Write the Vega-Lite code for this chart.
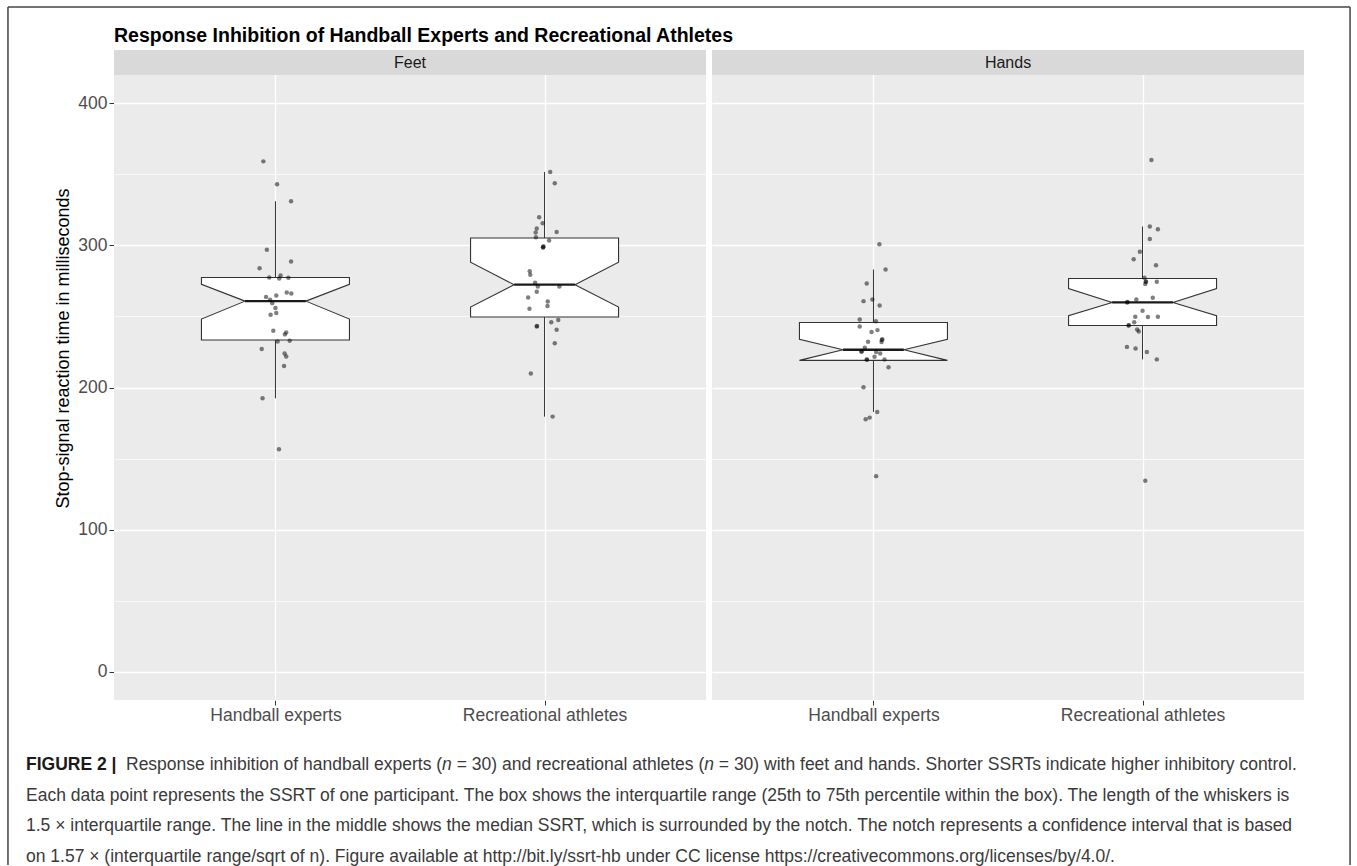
{
  "$schema": "https://vega.github.io/schema/vega-lite/v6.json",
  "background": "white",
  "padding": {"left": 7, "top": 6, "right": 5, "bottom": 0},
  "bounds": "flush",
  "spacing": 715,
  "config": {
    "view": {"stroke": null},
    "font": "Liberation Sans",
    "facet": {"spacing": 6},
    "axis": {
      "domain": false,
      "tickColor": "#333333",
      "tickSize": 5,
      "tickWidth": 1,
      "labelColor": "#4D4D4D",
      "labelFontSize": 17.5,
      "labelFont": "Liberation Sans",
      "gridColor": "white",
      "titleFont": "Liberation Sans",
      "titleFontWeight": "normal",
      "titleFontSize": 18,
      "titleColor": "black"
    }
  },
  "vconcat": [
    {
      "data": {"values": [
        {"kind": "strip", "panel": "Feet"},
        {"kind": "strip", "panel": "Hands"},
        {"kind": "box", "panel": "Feet", "group": "Handball experts", "lower": 192.4, "q1": 233.4, "nlo": 248.2, "med": 260.8, "nhi": 272.6, "q3": 277.4, "upper": 331.1},
        {"kind": "box", "panel": "Feet", "group": "Recreational athletes", "lower": 179.5, "q1": 249.6, "nlo": 256.6, "med": 272.4, "nhi": 288.2, "q3": 305.3, "upper": 351.7},
        {"kind": "box", "panel": "Hands", "group": "Handball experts", "lower": 182.8, "q1": 219.1, "nlo": 219.1, "med": 226.6, "nhi": 233.9, "q3": 245.8, "upper": 283.1},
        {"kind": "box", "panel": "Hands", "group": "Recreational athletes", "lower": 219.8, "q1": 243.7, "nlo": 250.6, "med": 259.9, "nhi": 269.7, "q3": 276.7, "upper": 313.3},
        {"kind": "pt", "panel": "Feet", "group": "Handball experts", "rt": 359.2, "jit": -0.045},
        {"kind": "pt", "panel": "Feet", "group": "Handball experts", "rt": 343.1, "jit": 0.006},
        {"kind": "pt", "panel": "Feet", "group": "Handball experts", "rt": 331.1, "jit": 0.058},
        {"kind": "pt", "panel": "Feet", "group": "Handball experts", "rt": 296.9, "jit": -0.032},
        {"kind": "pt", "panel": "Feet", "group": "Handball experts", "rt": 288.7, "jit": 0.058},
        {"kind": "pt", "panel": "Feet", "group": "Handball experts", "rt": 284.0, "jit": -0.059},
        {"kind": "pt", "panel": "Feet", "group": "Handball experts", "rt": 277.5, "jit": -0.023},
        {"kind": "pt", "panel": "Feet", "group": "Handball experts", "rt": 278.9, "jit": 0.019},
        {"kind": "pt", "panel": "Feet", "group": "Handball experts", "rt": 276.7, "jit": 0.014},
        {"kind": "pt", "panel": "Feet", "group": "Handball experts", "rt": 277.2, "jit": 0.048},
        {"kind": "pt", "panel": "Feet", "group": "Handball experts", "rt": 266.9, "jit": 0.042},
        {"kind": "pt", "panel": "Feet", "group": "Handball experts", "rt": 266.2, "jit": 0.059},
        {"kind": "pt", "panel": "Feet", "group": "Handball experts", "rt": 263.8, "jit": -0.035},
        {"kind": "pt", "panel": "Feet", "group": "Handball experts", "rt": 264.8, "jit": 0.003},
        {"kind": "pt", "panel": "Feet", "group": "Handball experts", "rt": 261.7, "jit": -0.02},
        {"kind": "pt", "panel": "Feet", "group": "Handball experts", "rt": 259.4, "jit": -0.012},
        {"kind": "pt", "panel": "Feet", "group": "Handball experts", "rt": 255.9, "jit": 0.0},
        {"kind": "pt", "panel": "Feet", "group": "Handball experts", "rt": 251.2, "jit": -0.018},
        {"kind": "pt", "panel": "Feet", "group": "Handball experts", "rt": 252.4, "jit": 0.003},
        {"kind": "pt", "panel": "Feet", "group": "Handball experts", "rt": 240.0, "jit": -0.008},
        {"kind": "pt", "panel": "Feet", "group": "Handball experts", "rt": 238.8, "jit": 0.04},
        {"kind": "pt", "panel": "Feet", "group": "Handball experts", "rt": 237.4, "jit": 0.035},
        {"kind": "pt", "panel": "Feet", "group": "Handball experts", "rt": 232.4, "jit": 0.008},
        {"kind": "pt", "panel": "Feet", "group": "Handball experts", "rt": 232.9, "jit": 0.053},
        {"kind": "pt", "panel": "Feet", "group": "Handball experts", "rt": 227.1, "jit": -0.051},
        {"kind": "pt", "panel": "Feet", "group": "Handball experts", "rt": 224.0, "jit": 0.034},
        {"kind": "pt", "panel": "Feet", "group": "Handball experts", "rt": 221.9, "jit": 0.04},
        {"kind": "pt", "panel": "Feet", "group": "Handball experts", "rt": 215.1, "jit": 0.032},
        {"kind": "pt", "panel": "Feet", "group": "Handball experts", "rt": 192.4, "jit": -0.048},
        {"kind": "pt", "panel": "Feet", "group": "Handball experts", "rt": 156.6, "jit": 0.013},
        {"kind": "pt", "panel": "Feet", "group": "Recreational athletes", "rt": 351.7, "jit": 0.021},
        {"kind": "pt", "panel": "Feet", "group": "Recreational athletes", "rt": 343.8, "jit": 0.038},
        {"kind": "pt", "panel": "Feet", "group": "Recreational athletes", "rt": 319.9, "jit": -0.02},
        {"kind": "pt", "panel": "Feet", "group": "Recreational athletes", "rt": 315.6, "jit": -0.007},
        {"kind": "pt", "panel": "Feet", "group": "Recreational athletes", "rt": 311.9, "jit": -0.029},
        {"kind": "pt", "panel": "Feet", "group": "Recreational athletes", "rt": 309.1, "jit": -0.033},
        {"kind": "pt", "panel": "Feet", "group": "Recreational athletes", "rt": 309.5, "jit": 0.045},
        {"kind": "pt", "panel": "Feet", "group": "Recreational athletes", "rt": 305.8, "jit": -0.032},
        {"kind": "pt", "panel": "Feet", "group": "Recreational athletes", "rt": 303.5, "jit": 0.017},
        {"kind": "pt", "panel": "Feet", "group": "Recreational athletes", "rt": 298.8, "jit": -0.005},
        {"kind": "pt", "panel": "Feet", "group": "Recreational athletes", "rt": 299.4, "jit": -0.004},
        {"kind": "pt", "panel": "Feet", "group": "Recreational athletes", "rt": 298.5, "jit": -0.006},
        {"kind": "pt", "panel": "Feet", "group": "Recreational athletes", "rt": 281.9, "jit": -0.055},
        {"kind": "pt", "panel": "Feet", "group": "Recreational athletes", "rt": 279.3, "jit": -0.053},
        {"kind": "pt", "panel": "Feet", "group": "Recreational athletes", "rt": 273.7, "jit": -0.035},
        {"kind": "pt", "panel": "Feet", "group": "Recreational athletes", "rt": 271.1, "jit": -0.025},
        {"kind": "pt", "panel": "Feet", "group": "Recreational athletes", "rt": 271.1, "jit": 0.055},
        {"kind": "pt", "panel": "Feet", "group": "Recreational athletes", "rt": 267.4, "jit": -0.029},
        {"kind": "pt", "panel": "Feet", "group": "Recreational athletes", "rt": 263.4, "jit": -0.061},
        {"kind": "pt", "panel": "Feet", "group": "Recreational athletes", "rt": 260.6, "jit": 0.012},
        {"kind": "pt", "panel": "Feet", "group": "Recreational athletes", "rt": 257.3, "jit": 0.011},
        {"kind": "pt", "panel": "Feet", "group": "Recreational athletes", "rt": 255.4, "jit": -0.056},
        {"kind": "pt", "panel": "Feet", "group": "Recreational athletes", "rt": 246.0, "jit": 0.025},
        {"kind": "pt", "panel": "Feet", "group": "Recreational athletes", "rt": 247.5, "jit": 0.051},
        {"kind": "pt", "panel": "Feet", "group": "Recreational athletes", "rt": 243.0, "jit": -0.029},
        {"kind": "pt", "panel": "Feet", "group": "Recreational athletes", "rt": 243.3, "jit": -0.028},
        {"kind": "pt", "panel": "Feet", "group": "Recreational athletes", "rt": 240.7, "jit": 0.045},
        {"kind": "pt", "panel": "Feet", "group": "Recreational athletes", "rt": 231.1, "jit": 0.038},
        {"kind": "pt", "panel": "Feet", "group": "Recreational athletes", "rt": 209.8, "jit": -0.051},
        {"kind": "pt", "panel": "Feet", "group": "Recreational athletes", "rt": 179.5, "jit": 0.03},
        {"kind": "pt", "panel": "Hands", "group": "Handball experts", "rt": 300.9, "jit": 0.022},
        {"kind": "pt", "panel": "Hands", "group": "Handball experts", "rt": 283.1, "jit": 0.045},
        {"kind": "pt", "panel": "Hands", "group": "Handball experts", "rt": 273.2, "jit": -0.025},
        {"kind": "pt", "panel": "Hands", "group": "Handball experts", "rt": 260.8, "jit": -0.037},
        {"kind": "pt", "panel": "Hands", "group": "Handball experts", "rt": 262.0, "jit": -0.004},
        {"kind": "pt", "panel": "Hands", "group": "Handball experts", "rt": 257.7, "jit": 0.023},
        {"kind": "pt", "panel": "Hands", "group": "Handball experts", "rt": 247.9, "jit": -0.051},
        {"kind": "pt", "panel": "Hands", "group": "Handball experts", "rt": 246.7, "jit": 0.009},
        {"kind": "pt", "panel": "Hands", "group": "Handball experts", "rt": 243.0, "jit": -0.051},
        {"kind": "pt", "panel": "Hands", "group": "Handball experts", "rt": 240.4, "jit": 0.015},
        {"kind": "pt", "panel": "Hands", "group": "Handball experts", "rt": 239.0, "jit": -0.007},
        {"kind": "pt", "panel": "Hands", "group": "Handball experts", "rt": 233.9, "jit": 0.033},
        {"kind": "pt", "panel": "Hands", "group": "Handball experts", "rt": 233.5, "jit": 0.031},
        {"kind": "pt", "panel": "Hands", "group": "Handball experts", "rt": 232.0, "jit": 0.03},
        {"kind": "pt", "panel": "Hands", "group": "Handball experts", "rt": 232.2, "jit": -0.02},
        {"kind": "pt", "panel": "Hands", "group": "Handball experts", "rt": 228.0, "jit": -0.032},
        {"kind": "pt", "panel": "Hands", "group": "Handball experts", "rt": 225.2, "jit": -0.045},
        {"kind": "pt", "panel": "Hands", "group": "Handball experts", "rt": 225.5, "jit": -0.043},
        {"kind": "pt", "panel": "Hands", "group": "Handball experts", "rt": 225.0, "jit": 0.01},
        {"kind": "pt", "panel": "Hands", "group": "Handball experts", "rt": 224.0, "jit": 0.025},
        {"kind": "pt", "panel": "Hands", "group": "Handball experts", "rt": 221.6, "jit": 0.004},
        {"kind": "pt", "panel": "Hands", "group": "Handball experts", "rt": 219.8, "jit": -0.025},
        {"kind": "pt", "panel": "Hands", "group": "Handball experts", "rt": 219.6, "jit": -0.024},
        {"kind": "pt", "panel": "Hands", "group": "Handball experts", "rt": 219.8, "jit": 0.041},
        {"kind": "pt", "panel": "Hands", "group": "Handball experts", "rt": 214.2, "jit": 0.056},
        {"kind": "pt", "panel": "Hands", "group": "Handball experts", "rt": 200.1, "jit": -0.037},
        {"kind": "pt", "panel": "Hands", "group": "Handball experts", "rt": 182.8, "jit": 0.014},
        {"kind": "pt", "panel": "Hands", "group": "Handball experts", "rt": 178.8, "jit": -0.014},
        {"kind": "pt", "panel": "Hands", "group": "Handball experts", "rt": 177.6, "jit": -0.029},
        {"kind": "pt", "panel": "Hands", "group": "Handball experts", "rt": 137.6, "jit": 0.01},
        {"kind": "pt", "panel": "Hands", "group": "Recreational athletes", "rt": 360.2, "jit": 0.033},
        {"kind": "pt", "panel": "Hands", "group": "Recreational athletes", "rt": 313.3, "jit": 0.027},
        {"kind": "pt", "panel": "Hands", "group": "Recreational athletes", "rt": 311.4, "jit": 0.057},
        {"kind": "pt", "panel": "Hands", "group": "Recreational athletes", "rt": 304.6, "jit": 0.027},
        {"kind": "pt", "panel": "Hands", "group": "Recreational athletes", "rt": 295.5, "jit": -0.01},
        {"kind": "pt", "panel": "Hands", "group": "Recreational athletes", "rt": 290.3, "jit": -0.033},
        {"kind": "pt", "panel": "Hands", "group": "Recreational athletes", "rt": 286.1, "jit": 0.05},
        {"kind": "pt", "panel": "Hands", "group": "Recreational athletes", "rt": 277.2, "jit": 0.007},
        {"kind": "pt", "panel": "Hands", "group": "Recreational athletes", "rt": 274.4, "jit": 0.013},
        {"kind": "pt", "panel": "Hands", "group": "Recreational athletes", "rt": 274.7, "jit": 0.012},
        {"kind": "pt", "panel": "Hands", "group": "Recreational athletes", "rt": 272.8, "jit": 0.01},
        {"kind": "pt", "panel": "Hands", "group": "Recreational athletes", "rt": 274.4, "jit": 0.053},
        {"kind": "pt", "panel": "Hands", "group": "Recreational athletes", "rt": 263.2, "jit": 0.038},
        {"kind": "pt", "panel": "Hands", "group": "Recreational athletes", "rt": 262.0, "jit": -0.023},
        {"kind": "pt", "panel": "Hands", "group": "Recreational athletes", "rt": 259.9, "jit": -0.057},
        {"kind": "pt", "panel": "Hands", "group": "Recreational athletes", "rt": 260.2, "jit": -0.056},
        {"kind": "pt", "panel": "Hands", "group": "Recreational athletes", "rt": 254.1, "jit": 0.0},
        {"kind": "pt", "panel": "Hands", "group": "Recreational athletes", "rt": 249.8, "jit": -0.027},
        {"kind": "pt", "panel": "Hands", "group": "Recreational athletes", "rt": 249.6, "jit": 0.02},
        {"kind": "pt", "panel": "Hands", "group": "Recreational athletes", "rt": 249.8, "jit": 0.057},
        {"kind": "pt", "panel": "Hands", "group": "Recreational athletes", "rt": 246.0, "jit": -0.031},
        {"kind": "pt", "panel": "Hands", "group": "Recreational athletes", "rt": 243.6, "jit": -0.052},
        {"kind": "pt", "panel": "Hands", "group": "Recreational athletes", "rt": 243.9, "jit": -0.051},
        {"kind": "pt", "panel": "Hands", "group": "Recreational athletes", "rt": 240.8, "jit": -0.02},
        {"kind": "pt", "panel": "Hands", "group": "Recreational athletes", "rt": 239.4, "jit": -0.014},
        {"kind": "pt", "panel": "Hands", "group": "Recreational athletes", "rt": 228.6, "jit": -0.058},
        {"kind": "pt", "panel": "Hands", "group": "Recreational athletes", "rt": 227.5, "jit": -0.026},
        {"kind": "pt", "panel": "Hands", "group": "Recreational athletes", "rt": 225.0, "jit": 0.016},
        {"kind": "pt", "panel": "Hands", "group": "Recreational athletes", "rt": 219.8, "jit": 0.053},
        {"kind": "pt", "panel": "Hands", "group": "Recreational athletes", "rt": 134.3, "jit": 0.01}
      ]},
      "title": {
        "text": "Response Inhibition of Handball Experts and Recreational Athletes",
        "anchor": "start",
        "frame": "group",
        "fontSize": 19.5,
        "fontWeight": "bold",
        "font": "Liberation Sans",
        "color": "black",
        "offset": 4
      },
      "facet": {"column": {"field": "panel", "type": "nominal", "title": null, "header": null}},
      "spec": {
        "width": 592,
        "height": 650,
        "view": {"fill": "#EBEBEB", "stroke": null},
        "layer": [
          {
            "transform": [{"filter": "datum.kind === 'strip'"}],
            "mark": {"type": "rect", "fill": "#D9D9D9"},
            "encoding": {
              "x": {"datum": 0.4, "type": "quantitative", "scale": {"domain": [0.4, 2.6], "nice": false, "zero": false}, "title": null},
              "x2": {"datum": 2.6},
              "y": {"datum": 420, "type": "quantitative", "scale": {"domain": [-20, 437.6], "nice": false, "zero": false}, "title": "Stop-signal reaction time in milliseconds"},
              "y2": {"datum": 437.6}
            }
          },
          {
            "transform": [{"filter": "datum.kind === 'strip'"}],
            "mark": {"type": "text", "fontSize": 16, "color": "#1A1A1A", "baseline": "middle", "align": "center"},
            "encoding": {
              "x": {"datum": 1.5, "type": "quantitative", "scale": {"domain": [0.4, 2.6], "nice": false, "zero": false}, "title": null},
              "y": {"datum": 428.8, "type": "quantitative", "scale": {"domain": [-20, 437.6], "nice": false, "zero": false}, "title": "Stop-signal reaction time in milliseconds"},
              "text": {"field": "panel"}
            }
          },
          {
            "transform": [
              {"filter": "datum.kind === 'box'"},
              {"calculate": "datum.group === 'Handball experts' ? 1 : 2", "as": "pos"}
            ],
            "mark": {"type": "rule", "color": "#333333", "strokeWidth": 1},
            "encoding": {
              "x": {"field": "pos", "type": "quantitative", "scale": {"domain": [0.4, 2.6], "nice": false, "zero": false}, "title": null},
              "y": {"field": "upper", "type": "quantitative", "scale": {"domain": [-20, 437.6], "nice": false, "zero": false}, "title": "Stop-signal reaction time in milliseconds"},
              "y2": {"field": "lower"}
            }
          },
          {
            "transform": [
              {"filter": "datum.kind === 'box'"},
              {"calculate": "datum.group === 'Handball experts' ? 1 : 2", "as": "pos"},
              {"fold": ["q1", "nlo", "med", "nhi", "q3"], "as": ["stat", "v"]},
              {"calculate": "datum.stat === 'med' ? 0.113 : 0.275", "as": "hw"},
              {"calculate": "datum.pos - datum.hw", "as": "xl"},
              {"calculate": "datum.pos + datum.hw", "as": "xr"}
            ],
            "mark": {"type": "area", "orient": "horizontal", "fill": "white", "stroke": "#333333", "strokeWidth": 1.1, "opacity": 1},
            "encoding": {
              "y": {"field": "v", "type": "quantitative", "scale": {"domain": [-20, 437.6], "nice": false, "zero": false}, "title": "Stop-signal reaction time in milliseconds"},
              "x": {"field": "xl", "type": "quantitative", "scale": {"domain": [0.4, 2.6], "nice": false, "zero": false}, "title": null},
              "x2": {"field": "xr"},
              "detail": {"field": "group", "type": "nominal"}
            }
          },
          {
            "transform": [
              {"filter": "datum.kind === 'box'"},
              {"calculate": "datum.group === 'Handball experts' ? 1 : 2", "as": "pos"},
              {"calculate": "datum.pos - 0.113", "as": "ml"},
              {"calculate": "datum.pos + 0.113", "as": "mr"}
            ],
            "mark": {"type": "rule", "color": "#1A1A1A", "strokeWidth": 2.4},
            "encoding": {
              "x": {"field": "ml", "type": "quantitative", "scale": {"domain": [0.4, 2.6], "nice": false, "zero": false}, "title": null},
              "x2": {"field": "mr"},
              "y": {"field": "med", "type": "quantitative", "scale": {"domain": [-20, 437.6], "nice": false, "zero": false}, "title": "Stop-signal reaction time in milliseconds"}
            }
          },
          {
            "transform": [
              {"filter": "datum.kind === 'pt'"},
              {"calculate": "(datum.group === 'Handball experts' ? 1 : 2) + datum.jit", "as": "xp"}
            ],
            "mark": {"type": "circle", "size": 20, "color": "black", "opacity": 0.5},
            "encoding": {
              "x": {"field": "xp", "type": "quantitative", "scale": {"domain": [0.4, 2.6], "nice": false, "zero": false}, "title": null,
                "axis": {"values": [1, 2], "title": null, "grid": true, "gridWidth": 1.3, "labelExpr": "datum.value === 1 ? 'Handball experts' : 'Recreational athletes'", "labelPadding": 1}},
              "y": {"field": "rt", "type": "quantitative", "scale": {"domain": [-20, 437.6], "nice": false, "zero": false}, "title": "Stop-signal reaction time in milliseconds",
                "axis": {
                  "values": [0, 50, 100, 150, 200, 250, 300, 350, 400],
                  "title": "Stop-signal reaction time in milliseconds",
                  "titlePadding": 5,
                  "titleY": 298,
                  "labelPadding": 2,
                  "grid": true,
                  "labelExpr": "datum.value % 100 === 0 ? datum.label : ''",
                  "gridWidth": {"condition": {"test": "datum.value % 100 === 0", "value": 1.3}, "value": 0.7},
                  "tickOpacity": {"condition": {"test": "datum.value % 100 === 0", "value": 1}, "value": 0}
                }}
            }
          }
        ]
      }
    },
    {
      "width": 1190,
      "height": 92,
      "view": {"fill": null, "stroke": null},
      "data": {"values": [
        {"line": 1, "part": "label", "text": "FIGURE 2 |"},
        {"line": 1, "part": "s1", "text": "Response inhibition of handball experts ("},
        {"line": 1, "part": "i1", "text": "n"},
        {"line": 1, "part": "s2", "text": "= 30) and recreational athletes ("},
        {"line": 1, "part": "i2", "text": "n"},
        {"line": 1, "part": "s3", "text": "= 30) with feet and hands. Shorter SSRTs indicate higher inhibitory control."},
        {"line": 2, "part": "body", "text": "Each data point represents the SSRT of one participant. The box shows the interquartile range (25th to 75th percentile within the box). The length of the whiskers is"},
        {"line": 3, "part": "body", "text": "1.5 × interquartile range. The line in the middle shows the median SSRT, which is surrounded by the notch. The notch represents a confidence interval that is based"},
        {"line": 4, "part": "body", "text": "on 1.57 × (interquartile range/sqrt of n). Figure available at http://bit.ly/ssrt-hb under CC license https://creativecommons.org/licenses/by/4.0/."},
        {"line": 0, "part": "frame"}
      ]},
      "encoding": {
        "x": {"datum": 0, "type": "quantitative", "scale": {"domain": [0, 1]}, "axis": null},
        "y": {"field": "line", "type": "quantitative", "scale": {"domain": [1, 4], "reverse": true, "nice": false, "zero": false}, "axis": null},
        "text": {"field": "text"}
      },
      "layer": [
        {
          "transform": [{"filter": "datum.part === 'label'"}],
          "mark": {"type": "text", "align": "left", "baseline": "middle", "fontSize": 17.5, "fontWeight": "bold", "color": "#1A1A1A", "dx": -88}
        },
        {
          "transform": [{"filter": "datum.part === 's1'"}],
          "mark": {"type": "text", "align": "left", "baseline": "middle", "fontSize": 17.5, "color": "#3A3A3A", "dx": 12}
        },
        {
          "transform": [{"filter": "datum.part === 'i1'"}],
          "mark": {"type": "text", "align": "left", "baseline": "middle", "fontSize": 17.5, "fontStyle": "italic", "color": "#3A3A3A", "dx": 328.1}
        },
        {
          "transform": [{"filter": "datum.part === 's2'"}],
          "mark": {"type": "text", "align": "left", "baseline": "middle", "fontSize": 17.5, "color": "#3A3A3A", "dx": 342.7}
        },
        {
          "transform": [{"filter": "datum.part === 'i2'"}],
          "mark": {"type": "text", "align": "left", "baseline": "middle", "fontSize": 17.5, "fontStyle": "italic", "color": "#3A3A3A", "dx": 590.2}
        },
        {
          "transform": [{"filter": "datum.part === 's3'"}],
          "mark": {"type": "text", "align": "left", "baseline": "middle", "fontSize": 17.5, "color": "#3A3A3A", "dx": 604.8}
        },
        {
          "transform": [{"filter": "datum.part === 'body'"}],
          "mark": {"type": "text", "align": "left", "baseline": "middle", "fontSize": 17.5, "color": "#3A3A3A", "dx": -88}
        },
        {
          "transform": [{"filter": "datum.part === 'frame'"}],
          "mark": {"type": "rule", "color": "#444444", "strokeWidth": 1.5},
          "encoding": {
            "x": {"datum": -0.0891, "type": "quantitative"},
            "y": {"datum": -23.72, "type": "quantitative"},
            "y2": {"datum": 4.26},
            "text": null
          }
        },
        {
          "transform": [{"filter": "datum.part === 'frame'"}],
          "mark": {"type": "rule", "color": "#444444", "strokeWidth": 1.5},
          "encoding": {
            "x": {"datum": 1.0387, "type": "quantitative"},
            "y": {"datum": -23.72, "type": "quantitative"},
            "y2": {"datum": 4.26},
            "text": null
          }
        },
        {
          "transform": [{"filter": "datum.part === 'frame'"}],
          "mark": {"type": "rule", "color": "#444444", "strokeWidth": 1.5},
          "encoding": {
            "x": {"datum": -0.0891, "type": "quantitative"},
            "x2": {"datum": 1.0387},
            "y": {"datum": -23.72, "type": "quantitative"},
            "text": null
          }
        }
      ]
    }
  ]
}
